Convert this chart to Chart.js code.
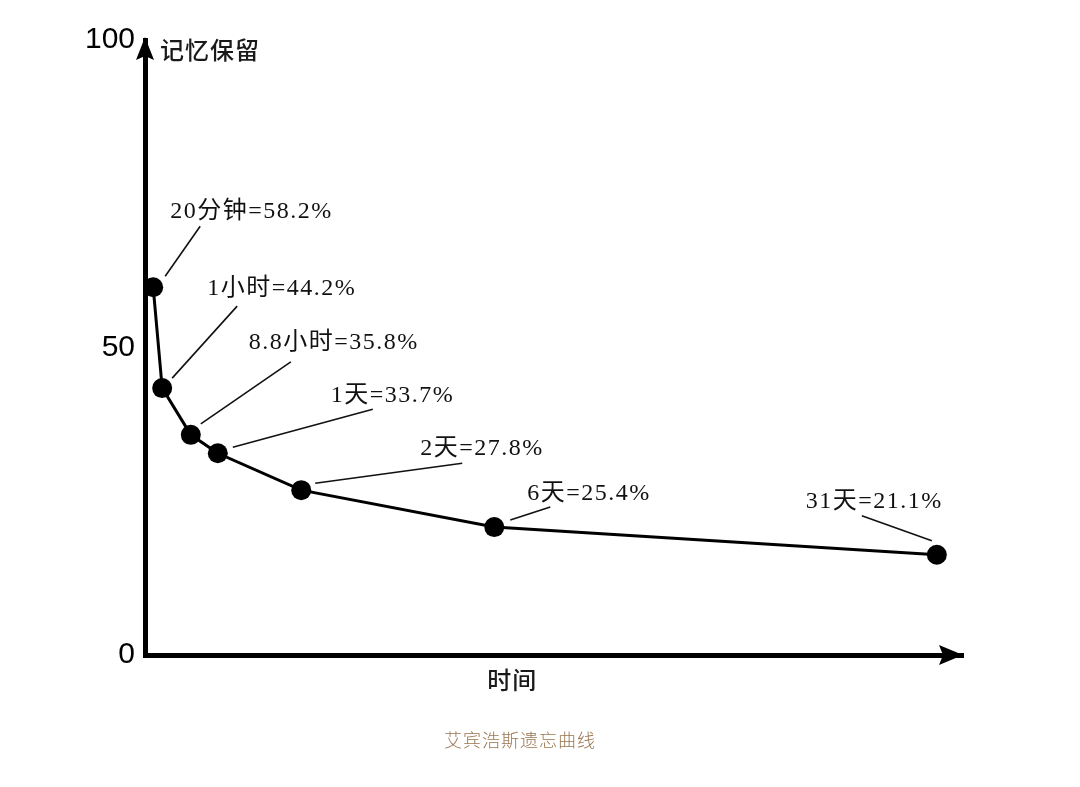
<!DOCTYPE html>
<html lang="zh-CN">
  <head>
    <meta charset="UTF-8" />
    <title>艾宾浩斯遗忘曲线</title>
    <script src="https://cdn.jsdelivr.net/npm/chart.js"></script>
    <style>
      html, body { margin: 0; padding: 0; background: #fff; }
      #wrap { position: relative; width: 1080px; height: 787px; }
      #caption {
        position: absolute; left: 0; width: 1040px; top: 726px;
        text-align: center; color: #9a7650; font-size: 18px; letter-spacing: 1px;
        font-family: "Noto Sans CJK SC", sans-serif; font-weight: 300;
      }
    </style>
  </head>
  <body>
    <div id="wrap">
      <canvas id="chart" width="1080" height="787"></canvas>
      <div id="caption">艾宾浩斯遗忘曲线</div>
    </div>

    <script>
      // -------- 数据 -------- //
      const pointLabels = ["20分钟=58.2%", "1小时=44.2%", "8.8小时=35.8%", "1天=33.7%", "2天=27.8%", "6天=25.4%", "31天=21.1%"];
      const timePos = [1.0, 2.1, 5.6, 8.9, 19.1, 42.7, 96.8]; // 横轴位置（图中示意，非线性）
      const retention = [59.8, 43.4, 35.8, 32.8, 26.8, 20.8, 16.3]; // 图中点的高度
      const yTicks = [0, 50, 100];
      const yTitle = "记忆保留";
      const xTitle = "时间";

      // 标注引线布局：[起点dx, 起点dy, 终点dx, 终点dy, 文字dx, 文字dy]（相对数据点像素）
      const labelLayout = [
        [12, -11, 47, -61, 17, -76],
        [10, -10, 75, -82, 45, -99],
        [10, -11, 100, -73, 58, -92],
        [15, -6, 155, -44, 113, -58],
        [14, -7, 161, -27, 119, -41],
        [16, -7, 56, -20, 33, -33],
        [-5, -14, -75, -39, -131, -53],
      ];

      const annotate = {
        id: "annotate",
        afterDatasetsDraw(chart) {
          const { ctx, scales } = chart;
          ctx.save();
          ctx.strokeStyle = "#111";
          ctx.lineWidth = 1.6;
          ctx.fillStyle = "#111";
          ctx.font = '24px "Liberation Serif", "Noto Sans CJK SC", serif';
          ctx.letterSpacing = "1.5px";
          ctx.textBaseline = "middle";
          ctx.textAlign = "left";
          pointLabels.forEach((txt, i) => {
            const px = scales.x.getPixelForValue(timePos[i]);
            const py = scales.y.getPixelForValue(retention[i]);
            const [sx, sy, ex, ey, tx, ty] = labelLayout[i];
            ctx.beginPath();
            ctx.moveTo(px + sx, py + sy);
            ctx.lineTo(px + ex, py + ey);
            ctx.stroke();
            ctx.fillText(txt, px + tx, py + ty);
          });
          ctx.restore();
        },
        afterDraw(chart) {
          const { ctx, chartArea: a } = chart;
          ctx.save();
          ctx.fillStyle = "#000";
          // y 轴箭头
          ctx.beginPath();
          ctx.moveTo(a.left, a.top - 3);
          ctx.lineTo(a.left + 9, a.top + 20);
          ctx.lineTo(a.left, a.top + 16);
          ctx.lineTo(a.left - 9, a.top + 20);
          ctx.closePath();
          ctx.fill();
          // x 轴箭头
          ctx.beginPath();
          ctx.moveTo(a.right, a.bottom);
          ctx.lineTo(a.right - 24, a.bottom - 10);
          ctx.lineTo(a.right - 20, a.bottom);
          ctx.lineTo(a.right - 24, a.bottom + 10);
          ctx.closePath();
          ctx.fill();
          // 轴标题
          ctx.fillStyle = "#1a1a1a";
          ctx.font = '500 24px "Noto Sans CJK SC", sans-serif';
          ctx.letterSpacing = "1px";
          ctx.textBaseline = "middle";
          ctx.textAlign = "left";
          ctx.fillText(yTitle, a.left + 15, a.top + 10);
          ctx.textAlign = "center";
          ctx.fillText(xTitle, a.left + (a.right - a.left) * 0.449, a.bottom + 25);
          ctx.restore();
        },
      };

      new Chart(document.getElementById("chart"), {
        type: "line",
        data: {
          datasets: [
            {
              data: timePos.map((x, i) => ({ x, y: retention[i] })),
              borderColor: "#000",
              borderWidth: 3,
              backgroundColor: "#000",
              pointRadius: 10,
              pointBorderWidth: 0,
              pointBackgroundColor: "#000",
              tension: 0,
            },
          ],
        },
        options: {
          responsive: false,
          animation: false,
          devicePixelRatio: 1,
          layout: { padding: { top: 40, right: 117, bottom: 0, left: 0 } },
          plugins: { legend: { display: false }, tooltip: { enabled: false } },
          scales: {
            x: {
              type: "linear",
              min: 0,
              max: 100,
              grid: { display: false, drawTicks: false },
              border: { color: "#000", width: 5 },
              ticks: { display: false },
              afterFit: (s) => { s.height = 132; },
            },
            y: {
              min: 0,
              max: 100,
              afterBuildTicks: (s) => { s.ticks = yTicks.map((v) => ({ value: v })); },
              grid: { display: false, drawTicks: false },
              border: { color: "#000", width: 5 },
              ticks: {
                color: "#000",
                padding: 10,
                font: { family: '"Liberation Sans", sans-serif', size: 30 },
              },
              afterFit: (s) => { s.width = 145; },
            },
          },
        },
        plugins: [annotate],
      });
    </script>
  </body>
</html>
